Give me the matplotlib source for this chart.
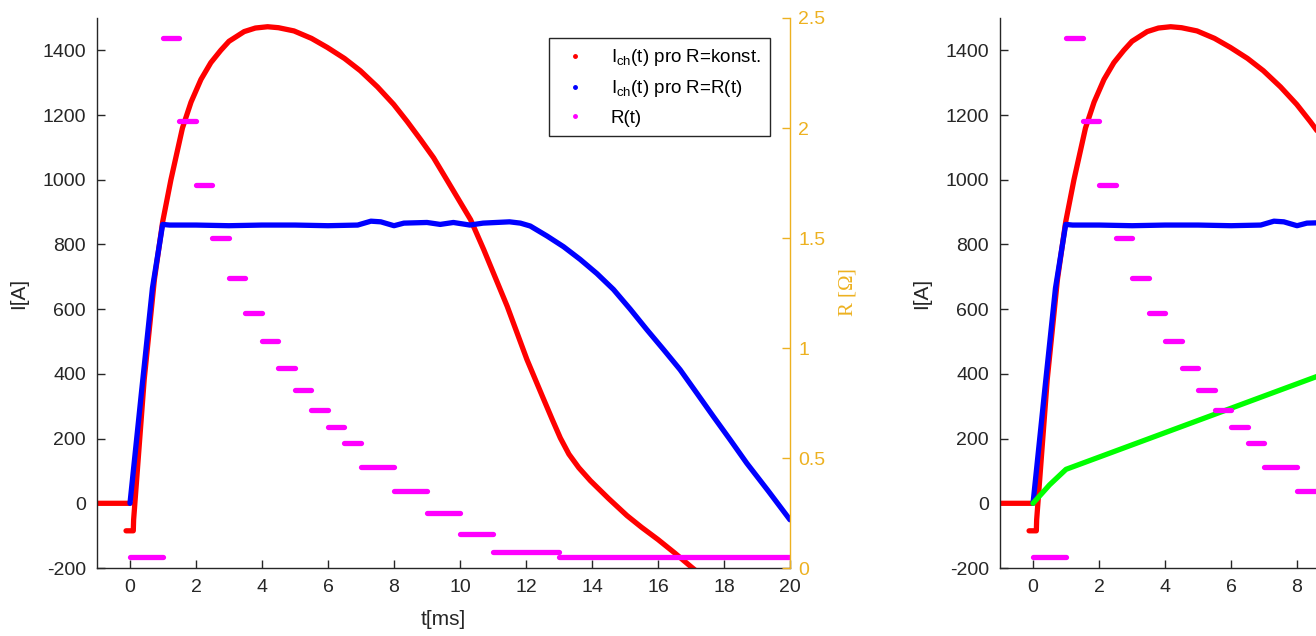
import numpy as np
import matplotlib
matplotlib.use('Agg')
import matplotlib.pyplot as plt
from matplotlib.lines import Line2D
from matplotlib.ticker import FormatStrFormatter

plt.rcParams['font.family'] = ['Liberation Sans', 'DejaVu Sans']
plt.rcParams['mathtext.default'] = 'regular'
plt.rcParams['axes.unicode_minus'] = False

# I_ch(t) for R = konst. (red)
t_konst = [-1, 0, np.nan, -0.12, 0.1, 0.11, 0.43, 0.74, 0.99, 1.24, 1.59, 1.85, 2.15, 2.45,
           2.75, 3.0, 3.46, 3.8, 4.17, 4.5, 4.97, 5.5, 5.98, 6.5, 6.98, 7.5, 7.99, 8.4, 8.8,
           9.2, 9.6, 10.32, 10.72, 11.43, 12.03, 12.5, 12.8, 13.04, 13.3, 13.6, 13.95, 14.5,
           15.06, 15.5, 16.0, 16.5, 17.0, 17.5]
i_konst = [0, 0, np.nan, -85, -85, -51, 382, 692, 870, 1000, 1160, 1240, 1310, 1362,
           1400, 1428, 1458, 1469, 1473, 1470, 1460, 1437, 1409, 1375, 1337, 1287, 1233, 1180, 1125,
           1068, 1000, 877, 784, 609, 444, 330, 258, 202, 152, 110, 70, 15,
           -38, -74, -112, -153, -196, -238]

# I_ch(t) for R = R(t) (blue)
t_var = [0, 0.35, 0.68, 0.99, 1.2, 2, 3, 4, 5, 6, 6.9, 7.3, 7.6, 8.0, 8.3, 9.0, 9.4, 9.8,
         10.3, 10.7, 11.5, 11.83, 12.13, 12.64, 13.14, 13.64, 14.15, 14.65, 15.16, 15.66,
         16.17, 16.67, 17.18, 17.68, 18.19, 18.69, 19.35, 20]
i_var = [0, 345, 665, 862, 860, 860, 858, 860, 860, 858, 860, 872, 870, 858, 866, 868, 862, 868,
         860, 866, 870, 866, 857, 826, 793, 754, 710, 661, 600, 537,
         475, 413, 340, 268, 196, 124, 37, -51]

# R(t) steps (magenta), right axis
r_start = [0, 1, 1.5, 2, 2.5, 3, 3.5, 4, 4.5, 5, 5.5, 6, 6.5, 7, 8, 9, 10, 11, 13]
r_end = [1, 1.5, 2, 2.5, 3, 3.5, 4, 4.5, 5, 5.5, 6, 6.5, 7, 8, 9, 10, 11, 13, 20]
r_val = [0.05, 2.41, 2.03, 1.74, 1.50, 1.32, 1.16, 1.03, 0.91, 0.81, 0.72, 0.64, 0.57,
         0.46, 0.35, 0.25, 0.155, 0.073, 0.05]

# green curve (right panel)
t_green = [0, 0.5, 1.0, 8.6, 9.5]
i_green = [0, 57, 105, 392, 428]

orange = '#EDB120'
dark = '#262626'
lw = 3.8

fig = plt.figure(figsize=(13.16, 6.36), dpi=100)


def make_panel(rect, green=False, legend=False, right_labels=True, xmax_tick=20):
    ax = fig.add_axes(rect)
    kw = dict(lw=lw, solid_capstyle='round', solid_joinstyle='round')
    ax.plot(t_konst, i_konst, color='#FF0000', **kw)
    ax.plot(t_var, i_var, color='#0000FF', **kw)
    if green:
        ax.plot(t_green, i_green, color='#00FF00', **kw)
    ax.set_xlim(-1, 20)
    ax.set_ylim(-200, 1500)
    ax.set_xticks(range(0, xmax_tick + 1, 2))
    ax.set_yticks(range(-200, 1401, 200))
    ax.tick_params(direction='in', length=6, width=1, colors=dark, labelsize=14, pad=8)
    ax.spines['top'].set_visible(False)
    ax.spines['right'].set_visible(False)
    for s in ['left', 'bottom']:
        ax.spines[s].set_color(dark)
        ax.spines[s].set_linewidth(1.0)
    ax.set_ylabel('I[A]', fontsize=15, color=dark, labelpad=10)

    ax2 = ax.twinx()
    segs = ax2.hlines(r_val, r_start, r_end, color='#FF00FF', lw=lw)
    segs.set_capstyle('round')
    ax2.set_ylim(0, 2.5)
    ax2.set_yticks([0, 0.5, 1, 1.5, 2, 2.5])
    ax2.yaxis.set_major_formatter(FormatStrFormatter('%g'))
    ax2.tick_params(direction='in', length=6, width=1, colors=orange, labelsize=14, pad=6,
                    labelright=right_labels)
    for s in ['top', 'left', 'bottom']:
        ax2.spines[s].set_visible(False)
    ax2.spines['right'].set_color(orange)
    ax2.spines['right'].set_linewidth(1.0)
    if right_labels:
        ax2.set_ylabel(r'R [$\Omega$]', fontsize=15, color=orange, family='Liberation Serif',
                       labelpad=8)

    if legend:
        handles = [Line2D([0], [0], marker='.', ls='none', color='#FF0000', markersize=5),
                   Line2D([0], [0], marker='.', ls='none', color='#0000FF', markersize=5),
                   Line2D([0], [0], marker='.', ls='none', color='#FF00FF', markersize=5)]
        labels = [r'I$_{ch}$(t) pro R=konst.', r'I$_{ch}$(t) pro R=R(t)', 'R(t)']
        leg = ax2.legend(handles, labels, loc='upper right', bbox_to_anchor=(0.971, 0.964),
                         fontsize=13.5, frameon=True, fancybox=False, framealpha=1,
                         edgecolor=dark, handlelength=1.8, handletextpad=1.0,
                         borderpad=0.5, labelspacing=0.55, borderaxespad=0)
        leg.get_frame().set_linewidth(1.0)
    return ax


ax_left = make_panel([0.0737, 0.1069, 0.5266, 0.8648], legend=True)
ax_left.set_xlabel('t[ms]', fontsize=15, color=dark, labelpad=10)
ax_right = make_panel([0.7599, 0.1069, 0.5266, 0.8648], green=True, right_labels=False,
                      xmax_tick=8)

fig.savefig('out.png', dpi=100)
